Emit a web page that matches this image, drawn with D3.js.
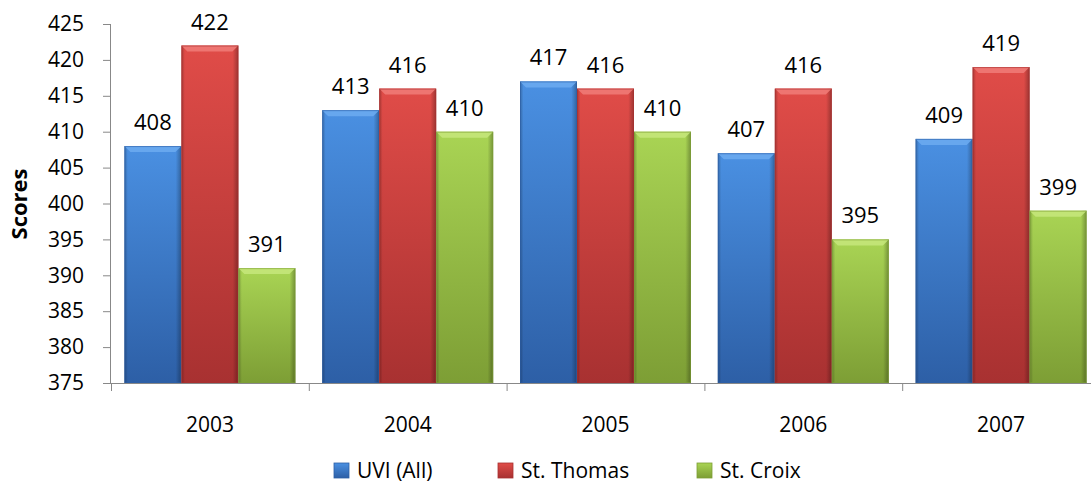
<!DOCTYPE html>
<html><head><meta charset="utf-8">
<script src="https://cdn.jsdelivr.net/npm/d3@7"></script>
<style>
body{margin:0;background:#fff;}
text{font-family:"Open Sans",Lato,sans-serif;fill:#000;}
</style></head>
<body><svg id="c" width="1091" height="487"></svg>
<script>
const categories = ["2003","2004","2005","2006","2007"];
const seriesNames = ["UVI (All)","St. Thomas","St. Croix"];
const uviAll   = [408,413,417,407,409];
const stThomas = [422,416,416,416,419];
const stCroix  = [391,410,410,395,399];
const yTicks = [375,380,385,390,395,400,405,410,415,420,425];
const series = [uviAll, stThomas, stCroix];

(function(){
const FF = "'Open Sans',Lato,sans-serif";
const colors = [
  {light:"#4a90e2", dark:"#2d5fa6", top:"#6aaaf0"},
  {light:"#e04c48", dark:"#a83131", top:"#f07a76"},
  {light:"#a9d454", dark:"#7d9e35", top:"#c4e67a"}
];

const svg = d3.select("#c");
const defs = svg.append("defs");
colors.forEach((c,i)=>{
  const g = defs.append("linearGradient").attr("id","gv"+i).attr("x1",0).attr("y1",0).attr("x2",0).attr("y2",1);
  g.append("stop").attr("offset","0%").attr("stop-color",c.light);
  g.append("stop").attr("offset","100%").attr("stop-color",c.dark);
  const h = defs.append("linearGradient").attr("id","gh"+i).attr("x1",0).attr("y1",0).attr("x2",1).attr("y2",0);
  h.append("stop").attr("offset","0%").attr("stop-color","#000").attr("stop-opacity",0.25);
  h.append("stop").attr("offset","6%").attr("stop-color","#000").attr("stop-opacity",0.0);
  h.append("stop").attr("offset","90%").attr("stop-color","#000").attr("stop-opacity",0.0);
  h.append("stop").attr("offset","100%").attr("stop-color","#000").attr("stop-opacity",0.3);
});

const pL = 111, pR = 1100, pT = 24, pB = 383;
const x = d3.scaleBand().domain(categories).range([pL,pR]).paddingInner(0).paddingOuter(0);
const groupW = 171;
const xs = d3.scaleBand().domain(d3.range(3)).range([0,groupW]);
const y = d3.scaleLinear().domain([375,425]).range([pB,pT]);

// y axis
const ya = svg.append("g").attr("transform",`translate(${pL},0)`)
  .call(d3.axisLeft(y).tickValues(yTicks).tickSize(8).tickPadding(19).tickFormat(d3.format("d")));
ya.select(".domain").attr("stroke","#888").attr("d",`M-0.5,${pT}V${pB}`);
ya.selectAll(".tick line").attr("stroke","#888");
ya.selectAll(".tick text").attr("font-size",21).style("font-family",FF).attr("fill","#000");

// x axis
const xa = svg.append("g").attr("transform",`translate(0,${pB})`)
  .call(d3.axisBottom(x).tickSize(0).tickPadding(34));
xa.select(".domain").attr("stroke","#888").attr("d",`M${pL},0.5H${pR}`);
xa.selectAll(".tick text").attr("font-size",21).style("font-family",FF).attr("fill","#000");
const bounds = categories.map(c=>x(c)).concat([pR]);
svg.append("g").selectAll("line").data(bounds).join("line")
  .attr("x1",d=>d+0.5).attr("x2",d=>d+0.5).attr("y1",pB).attr("y2",pB+8).attr("stroke","#888");

// bars
const gg = svg.append("g").selectAll("g").data(categories).join("g")
  .attr("transform",c=>`translate(${x(c)+(x.bandwidth()-groupW)/2},0)`);
series.forEach((vals,si)=>{
  gg.each(function(c,ci){
    const g = d3.select(this);
    const v = vals[ci];
    const bx = xs(si), bw = xs.bandwidth(), by = y(v), bh = pB - y(v);
    g.append("rect").attr("x",bx).attr("y",by).attr("width",bw).attr("height",bh).attr("fill",`url(#gv${si})`);
    g.append("rect").attr("x",bx).attr("y",by).attr("width",bw).attr("height",bh).attr("fill",`url(#gh${si})`);
    const bev = 6;
    g.append("path").attr("d",`M${bx},${by}H${bx+bw}L${bx+bw-bev},${by+bev}H${bx+bev}Z`)
      .attr("fill",colors[si].top).attr("opacity",0.9);
    g.append("rect").attr("x",bx+0.5).attr("y",by+0.5).attr("width",bw-1).attr("height",bh-1)
      .attr("fill","none").attr("stroke",colors[si].dark).attr("stroke-opacity",0.6);
    g.append("text").attr("x",bx+bw/2).attr("y",by-16).attr("text-anchor","middle")
      .attr("font-size",22).text(v);
  });
});

// y title
svg.append("text").attr("transform","translate(27,204) rotate(-90)").attr("text-anchor","middle")
  .attr("font-size",22).attr("font-weight","bold").text("Scores");

// legend
const legX = [334,498,697];
const lg = svg.append("g").selectAll("g").data(seriesNames).join("g")
  .attr("transform",(d,i)=>`translate(${legX[i]},463)`);
lg.append("rect").attr("width",15).attr("height",15).attr("fill",(d,i)=>`url(#gv${i})`)
  .attr("stroke",(d,i)=>colors[i].dark).attr("stroke-width",0.8);
lg.append("text").attr("x",23).attr("y",15).attr("font-size",21).text(d=>d);
})();
</script></body></html>
